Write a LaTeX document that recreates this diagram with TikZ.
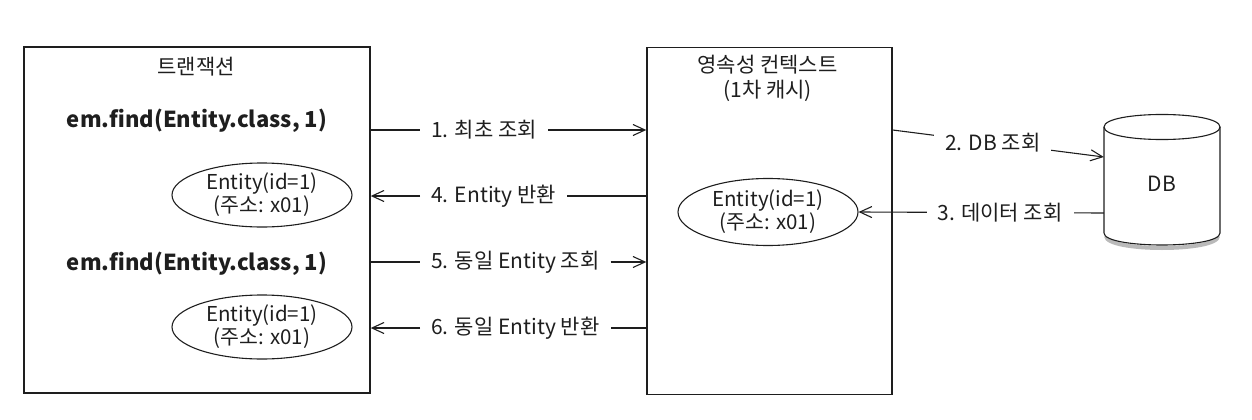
\documentclass[tikz,border=0pt]{standalone}
\usepackage{fontspec}
\setmainfont{Noto Sans CJK KR}
\usetikzlibrary{arrows.meta,shapes.geometric}
\definecolor{ink}{HTML}{1E1E1E}
\begin{document}
\begin{tikzpicture}[x=1pt,y=-1pt,
  box/.style={draw=ink, line width=1.4pt, inner sep=0pt},
  ttl/.style={text=ink, font=\fontsize{21}{25}\selectfont, align=center},
  call/.style={text=ink, font=\fontsize{22}{26}\selectfont\bfseries},
  ent/.style={ellipse, draw=ink, line width=1.1pt, align=center, inner sep=0pt, text=ink, font=\fontsize{20.5}{23}\selectfont},
  lbl/.style={text=ink, font=\fontsize{21}{23}\selectfont, inner xsep=11pt, inner ysep=3pt},
  ln/.style={draw=ink, line width=1.1pt},
  arr/.style={draw=ink, line width=1.1pt, -{Straight Barb[length=12pt,width=11pt,line width=1.1pt]}}
]
\useasboundingbox (0,0) rectangle (1252,420);

% row coordinates
\coordinate (r1) at (0,130);
\coordinate (r2e) at (0,157);
\coordinate (r3) at (0,213);
\coordinate (r4) at (0,196);
\coordinate (r5) at (0,262);
\coordinate (r6) at (0,328);

% transaction box
\node[box, minimum width=346, minimum height=346] (tx) at (197,220) {};
\node[ttl] (txt) at (196,67) {트랜잭션};
\node[call] (f1) at (197,121) {em.find(Entity.class, 1)};
\node[ent, minimum width=180, minimum height=64] (e1) at (262,195) {Entity(id=1)\\(주소: x01)};
\node[call] (f2) at (197,264) {em.find(Entity.class, 1)};
\node[ent, minimum width=180, minimum height=64] (e2) at (262,327) {Entity(id=1)\\(주소: x01)};

% persistence context box
\node[box, minimum width=245, minimum height=347] (pc) at (769.5,221) {};
\node[ttl] (pct) at (767.5,78) {영속성 컨텍스트\\(1차 캐시)};
\node[ent, minimum width=180, minimum height=67] (e3) at (768,212) {Entity(id=1)\\(주소: x01)};

% DB cylinder
\draw[line width=4pt, black!45, opacity=0.6] (1106,236) .. controls (1106,252) and (1218,252) .. (1218,236);
\draw[ln, fill=white] (1104,127) -- (1104,233) .. controls (1104,249) and (1220,249) .. (1220,233)
  -- (1220,127) .. controls (1220,110.3) and (1104,110.3) .. (1104,127) -- cycle;
\draw[ln] (1104,127) .. controls (1104,143.7) and (1220,143.7) .. (1220,127);
\node[inner sep=0pt, minimum width=116, minimum height=110, text=ink, font=\fontsize{21}{23}\selectfont] (db) at (1162,184) {DB};

% arrows between transaction and context
\node[lbl, anchor=west] (t1) at (420,130) {1. 최초 조회};
\draw[ln] (tx.east|-r1) -- (t1.west);
\draw[arr] (t1.east) -- (pc.west|-r1);

\node[lbl, anchor=west] (t4) at (420,196) {4. Entity 반환};
\draw[ln] (pc.west|-r4) -- (t4.east);
\draw[arr] (t4.west) -- (tx.east|-r4);

\node[lbl, anchor=west] (t5) at (420,262) {5. 동일 Entity 조회};
\draw[ln] (tx.east|-r5) -- (t5.west);
\draw[arr] (t5.east) -- (pc.west|-r5);

\node[lbl, anchor=west] (t6) at (420,328) {6. 동일 Entity 반환};
\draw[ln] (pc.west|-r6) -- (t6.east);
\draw[arr] (t6.west) -- (tx.east|-r6);

% arrows between context and DB
\draw[arr] (pc.east|-r1) -- node[lbl, fill=white, pos=0.474] (t2) {2. DB 조회} (db.west|-r2e);
\draw[arr] (db.west|-r3) -- node[lbl, fill=white, pos=0.423] (t3) {3. 데이터 조회} (e3.east);
\end{tikzpicture}
\end{document}
